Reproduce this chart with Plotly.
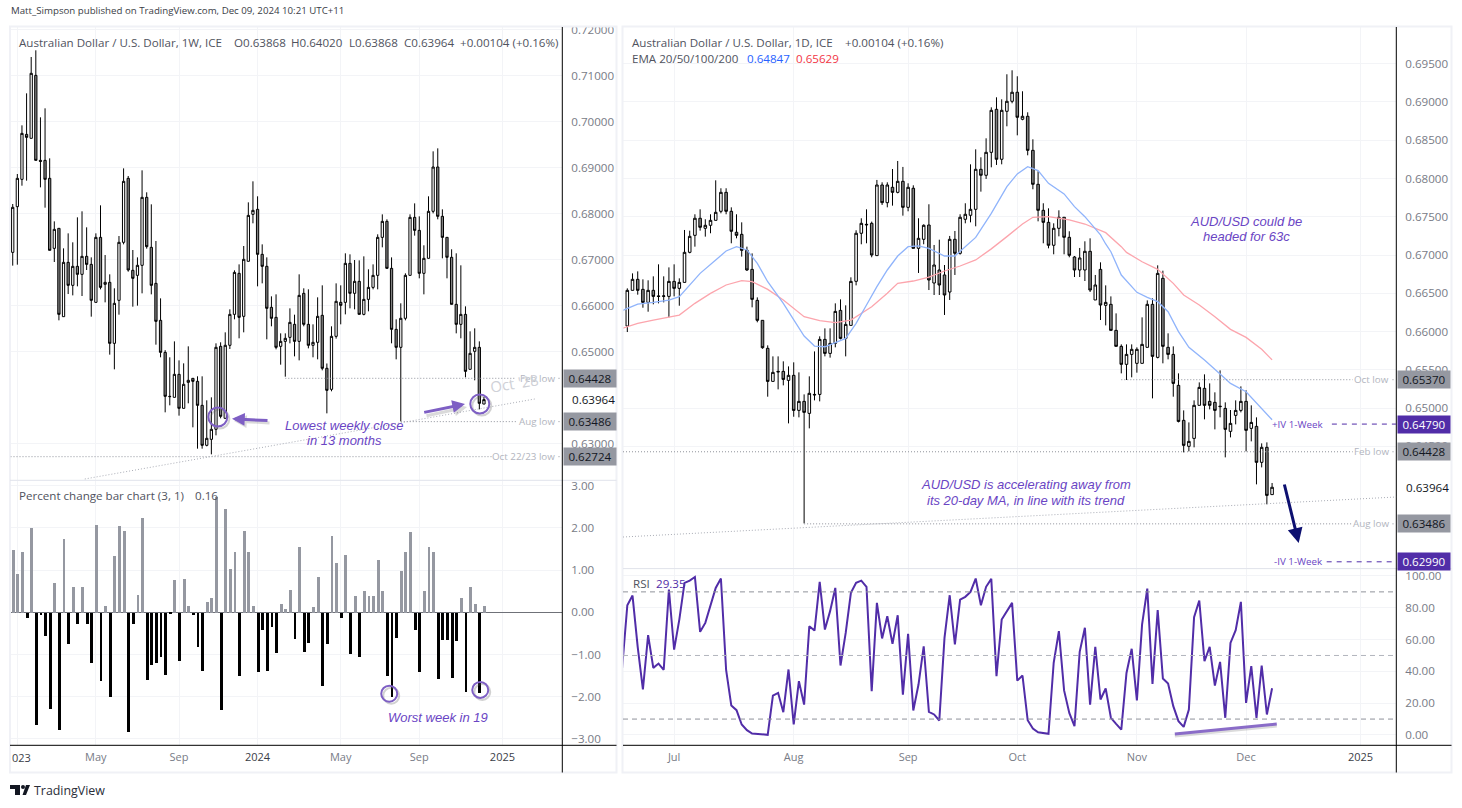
import plotly.graph_objects as go

W, H = 1462, 808
FONT = "Open Sans"
PURPLE = "#512da8"
NOTE = "#6a45c4"
GREY = "#787b86"
LEVEL = "#b2b5be"

# weekly AUD/USD
wk_open = [.67166,.68159,.68753,.69731,.69645,.71014,.69166,.69166,.68775,.67253,
           .67688,.65768,.66949,.66449,.66862,.66688,.67079,.66905,.66079,.67492,
           .66471,.66514,.65188,.66123,.67384,.68775,.66775,.66666,.66884,.68362,
           .67275,.66492,.65688,.64992,.64036,.64014,.64514,.63775,.64340,.64427,
           .64362,.63840,.62971,.63101,.63319,.65123,.63558,.65145,.65818,.66710,
           .65775,.66971,.67992,.68101,.67123,.66862,.65971,.65753,.65123,.65231,
           .65318,.65601,.65231,.66275,.65601,.65145,.65210,.65797,.64645,.64188,
           .65340,.66079,.66079,.66927,.66275,.66536,.65818,.66144,.66405,.66666,
           .67492,.67840,.66818,.65492,.65101,.65732,.66666,.67927,.67644,.66710,
           .67036,.68058,.69021,.67949,.67492,.67058,.66036,.65601,.65818,.64623,
           .65014,.65101,.63868]
wk_high = [.68217,.68869,.69927,.70623,.71413,.71558,.70101,.70297,.69210,.67840,
           .67688,.67253,.67579,.67384,.67927,.68058,.67710,.67057,.67579,.68188,
           .67108,.66688,.66384,.67521,.68992,.68826,.67217,.67057,.68949,.68471,
           .68210,.67413,.66166,.65040,.64884,.65231,.64818,.64753,.65123,.64427,
           .64471,.64471,.63949,.64014,.65188,.65210,.65427,.65927,.66775,.66905,
           .67304,.68253,.68710,.68384,.67340,.67057,.66210,.66253,.65405,.65405,
           .65949,.65811,.66688,.66384,.66362,.65601,.66188,.66449,.64750,.65558,
           .66492,.66449,.67145,.67123,.66999,.66992,.67079,.66797,.66905,.67558,
           .67992,.67884,.67057,.65710,.66058,.66710,.67992,.68231,.67949,.67319,
           .68384,.69362,.69427,.68101,.67492,.67232,.67145,.66884,.65992,.65449,
           .65514,.65231,.64020]
wk_low = [.66877,.66898,.68615,.68724,.69645,.69166,.68579,.68137,.67210,.66956,
          .65688,.65768,.66260,.66231,.66427,.66217,.66782,.65768,.66079,.66362,
          .66079,.64942,.64623,.65811,.67340,.66746,.65985,.66007,.66275,.67246,
          .66253,.65159,.64884,.63688,.63840,.64014,.63616,.63775,.63884,.63362,
          .62898,.62898,.62949,.62775,.63188,.63558,.63558,.65065,.65710,.65297,
          .65427,.66971,.67797,.66427,.66492,.65275,.65558,.65058,.64724,.64463,
          .65188,.64905,.64818,.65558,.65079,.64884,.64840,.64601,.63666,.64145,
          .65290,.65601,.65818,.65949,.65927,.65818,.65797,.65884,.66362,.66362,
          .67275,.66818,.65188,.64840,.63492,.65688,.66666,.67529,.66601,.66253,
          .67036,.68014,.67884,.67036,.66601,.66036,.65405,.65297,.64449,.64623,
          .64384,.63753,.63868]
wk_close = [.68145,.68775,.69753,.69666,.71058,.69166,.69145,.68753,.67210,.67666,
            .65818,.66949,.66449,.66862,.66688,.67079,.66905,.66123,.67492,.66405,
            .66514,.65188,.66058,.67384,.68710,.66782,.66601,.66884,.68362,.67290,
            .66449,.65666,.64992,.64036,.64030,.64514,.63775,.64297,.64384,.64362,
            .63840,.62971,.63123,.63319,.65101,.63601,.65145,.65818,.66731,.65753,
            .67014,.67970,.68079,.67123,.66862,.65949,.65732,.65101,.65231,.65297,
            .65644,.65231,.66231,.65601,.65145,.65210,.65775,.64645,.64166,.65340,
            .66101,.66014,.66927,.66275,.66536,.65818,.66144,.66405,.66666,.67492,
            .67840,.66818,.65492,.65101,.65732,.66666,.67927,.67644,.66710,.67036,
            .68058,.69021,.67949,.67492,.67058,.66036,.65601,.65818,.64579,.64971,
            .65101,.63884,.63964]
wk_pct = [1.50,.93,1.45,-.13,2.00,-2.67,-.06,-.55,-2.27,.70,
          -2.77,1.76,-.74,.60,-.27,.60,-.27,-1.20,2.07,-1.62,
          .17,-2.00,1.34,2.05,1.95,-2.83,-.27,.43,2.24,-1.60,
          -1.24,-1.19,-1.05,-1.48,-.03,.77,-1.15,.81,.15,-.06,
          -.81,-1.38,.25,.34,2.75,-2.31,2.45,1.05,1.43,-1.50,
          1.93,1.45,.17,-1.41,-.41,-1.38,-.34,-.96,.20,.10,
          .55,-.62,1.55,-.93,-.72,.13,.86,-1.74,-.74,1.81,
          1.17,-.13,1.38,-.98,.39,-1.05,.51,.39,.41,1.26,
          .51,-1.50,-2.00,-.60,.98,1.43,1.91,-.41,-1.41,.51,
          1.55,1.43,-1.57,-.65,-.65,-1.55,-.67,.34,-1.88,.62,
          .20,-1.90,.17]
wk_ticks = [1, 18, 36, 53, 71, 88, 106]
wk_ticktext = ["", "May", "Sep", "<span style='color:#3a3d46'>2024</span>", "May", "Sep",
               "<span style='color:#3a3d46'>2025</span>"]
wk_price_ticks = [.72, .71, .70, .69, .68, .67, .66, .65, .63]
pct_ticks = [3, 2, 1, 0, -1, -2, -3]
pct_ticktext = ["3.00", "2.00", "1.00", "0.00", "\u22121.00", "\u22122.00", "\u22123.00"]

# daily AUD/USD
d_open = [.66072,.66538,.66682,.66551,.66381,.66538,.66465,.66459,.66459,.66655,
          .66564,.66642,.67035,.67257,.6748,.67349,.67388,.67453,.67571,.67819,
          .67571,.67297,.6727,.67061,.66812,.66407,.66146,.6578,.65348,.65479,
          .65479,.65361,.65427,.64969,.65087,.6493,.65178,.65178,.65897,.65714,
          .65845,.66276,.6591,.6608,.66656,.67284,.67401,.67414,.66992,.67915,
          .67684,.67885,.67819,.67963,.67623,.67872,.67087,.67205,.67392,.66634,
          .66804,.66739,.66516,.67205,.67022,.67467,.67519,.67597,.6812,.68042,
          .68342,.68904,.68251,.68878,.69009,.69127,.68774,.68813,.68368,.67924,
          .67584,.67427,.67127,.67349,.67493,.67231,.66974,.66804,.66804,.67048,
          .66412,.66812,.66342,.66355,.66015,.65806,.65571,.65701,.65584,.65584,
          .65793,.66355,.65662,.66695,.65793,.65701,.65296,.64839,.64499,.64603,
          .65035,.65257,.65087,.65074,.65017,.64995,.64695,.64904,.64969,.65087,
          .64734,.6476,.6429,.64486,.63868]
d_high = [.66564,.6676,.66786,.66682,.66669,.66721,.66878,.66721,.66838,.66878,
          .66695,.67327,.67318,.67532,.67597,.67467,.67532,.67976,.67872,.67872,
          .67623,.67532,.67427,.67109,.67021,.66446,.66146,.65819,.65675,.65675,
          .6561,.65544,.65597,.65466,.65178,.65414,.6574,.65937,.66041,.66041,
          .66368,.6642,.66342,.66708,.67323,.6748,.67597,.67436,.67981,.6795,
          .6795,.68124,.68229,.68151,.67937,.67911,.6748,.67401,.67663,.67131,
          .672,.66869,.67249,.67314,.67532,.67676,.68185,.68381,.68277,.68525,
          .6893,.69061,.69035,.69362,.69414,.69336,.6914,.68865,.68512,.68094,
          .67676,.6761,.67414,.67584,.67493,.6731,.66987,.67092,.67179,.67218,
          .66739,.66904,.66603,.66459,.66237,.65832,.65832,.65832,.65793,.66185,
          .66407,.66433,.66865,.66795,.65976,.65806,.65453,.64969,.64812,.651,
          .65335,.6544,.65322,.65205,.65492,.65074,.64974,.651,.65283,.65231,
          .65035,.64878,.64538,.64551,.6402]
d_low = [.65993,.66538,.66481,.66311,.66259,.66355,.66368,.66381,.66185,.66459,
         .66337,.66642,.67022,.67109,.67318,.6724,.67284,.67453,.67545,.67532,
         .67153,.67218,.66979,.66791,.66316,.6612,.65775,.65148,.65348,.65244,
         .65296,.64799,.64886,.64878,.63492,.64734,.651,.65087,.65675,.65658,
         .65793,.65897,.65675,.6608,.66603,.6714,.67153,.6697,.66992,.67654,
         .67623,.67645,.67806,.67514,.67571,.67087,.66765,.6714,.66542,.66477,
         .66477,.66216,.66412,.66739,.67005,.67414,.67427,.67375,.67828,.67994,
         .68146,.68177,.68185,.68682,.68983,.68564,.68761,.68303,.67859,.6744,
         .67153,.67087,.67009,.67244,.67009,.6697,.66712,.66712,.6666,.66516,
         .66412,.6615,.6608,.66015,.65806,.65453,.65366,.65401,.65462,.65584,
         .65793,.65126,.65649,.65584,.65636,.65148,.64812,.6442,.64433,.64486,
         .65035,.64852,.64982,.64721,.64878,.64355,.64616,.64786,.64943,.64433,
         .64564,.64002,.64224,.63741,.63868]
d_close = [.66538,.66682,.66538,.66381,.66538,.66459,.66459,.66465,.66655,.66564,
           .66642,.67035,.67244,.6748,.67362,.67388,.67453,.67558,.67819,.67571,
           .6731,.67257,.67061,.66804,.6642,.66146,.65788,.65348,.65466,.65473,
           .65374,.65427,.64969,.65087,.64943,.65192,.65172,.65897,.65714,.65845,
           .66263,.6591,.66093,.66655,.67284,.67414,.67395,.67,.67915,.67684,
           .67915,.67819,.67963,.67623,.67885,.67087,.67218,.67388,.66673,.66869,
           .66608,.66477,.67205,.67022,.67493,.67532,.67597,.6812,.68042,.68342,
           .68891,.68251,.68891,.69009,.69127,.688,.68813,.68368,.67924,.67584,
           .67427,.67127,.67349,.67493,.67231,.66996,.66804,.66961,.67048,.66542,
           .66608,.66346,.66381,.66015,.65806,.65571,.65701,.65767,.65767,.65832,
           .66355,.65675,.6676,.65806,.65701,.65322,.64825,.64512,.64564,.65035,
           .6527,.65035,.65035,.64969,.65022,.64721,.64799,.64969,.65087,.64708,
           .64812,.6429,.64486,.63858,.63964]

ema20_idx = [-1,0,2,5,8,10,12,14,17,19,21,23,25,27,30,34,36,38,42,44,46,48,50,52,54,56,58,61,63,65,67,
             70,73,75,77,79,81,84,86,88,91,92,93,95,98,100,102,104,106,108,111,114,116,119,121,124]
ema20_val = [.66272,.66303,.66359,.66381,.66411,.66455,.66608,.66760,.66934,.67052,.67109,.67066,.66891,
             .66651,.66368,.65941,.65810,.65801,.6591,.66107,.66346,.66586,.66804,.66987,.67109,.67118,
             .67087,.66987,.66987,.67109,.6723,.67545,.67894,.6806,.68155,.68103,.67937,.67798,.67632,
             .67501,.67262,.67144,.67043,.66738,.66512,.66446,.6639,.66259,.65998,.65793,.65627,.65444,
             .65322,.65213,.65061,.64847]
ema50_idx = [-1,0,2,5,10,13,16,19,22,24,27,30,34,37,40,43,47,50,52,55,58,61,64,67,70,73,76,78,81,85,88,
             92,95,96,99,102,105,107,110,113,116,119,122,124]
ema50_val = [.66041,.66063,.66106,.66150,.66215,.66368,.66499,.66608,.66664,.66651,.66551,.66411,.66194,
             .66141,.66115,.6615,.66324,.66499,.6663,.6666,.66712,.66791,.66856,.66935,.6708,.6724,
             .67405,.67493,.67501,.67458,.67405,.67292,.67109,.67034,.66912,.66812,.66629,.66477,.66346,
             .66194,.66028,.65923,.65767,.65629]
rsi_val = [42.0,81.6,87.7,55.2,28.6,62.8,42.2,44.9,41.0,91.5,53.7,72.6,95.7,97.1,99.4,64.9,70.5,81.0,92.5,98.4,
           41.0,18.5,15.6,6.6,3.0,.9,.5,.3,.1,24.8,26.5,14.3,41.2,6.6,33.8,19.1,68.4,65.7,96.3,66.3,
           77.9,92.5,43.7,64.2,89.4,95.7,97.1,93.2,27.5,83.1,60.7,74.7,57.3,75.3,25.4,63.6,15.4,31.7,55.8,14.5,
           12.9,9.1,61.1,87.9,56.9,85.2,86.9,90.0,98.4,81.6,93.2,98.2,37.0,72.6,77.9,83.1,34.2,37.4,9.3,4.0,
           1.7,1.3,.7,45.4,65.3,28.0,13.9,5.5,52.3,67.4,19.1,55.4,22.3,29.2,10.8,7.0,3.4,39.0,54.2,21.7,
           69.5,92.1,32.1,78.5,35.5,32.4,18.1,8.7,5.1,16.0,74.1,84.6,46.4,55.4,31.1,46.0,10.8,57.9,65.9,83.7,
           20.2,43.3,10.8,43.7,12.9,29.35]
d_ticks = [9, 32, 54, 75, 98, 119, 141]
d_ticktext = ["Jul", "Aug", "Sep", "Oct", "Nov", "Dec", "<span style='color:#3a3d46'>2025</span>"]
d_price_ticks = [.695, .69, .685, .68, .675, .67, .665, .66, .655, .65, .645]
rsi_ticks = [100, 80, 60, 40, 20, 0]

wk_x = list(range(len(wk_close)))
d_x = list(range(len(d_close)))
rsi_x = list(range(-1, len(d_close)))


def px_x(x):
    return x / W


def px_y(y):
    return 1 - y / H


fig = go.Figure()
fig.add_trace(go.Candlestick(
    x=wk_x, open=wk_open, high=wk_high, low=wk_low, close=wk_close, xaxis="x", yaxis="y", whiskerwidth=0,
    increasing=dict(line=dict(color="#000000", width=1), fillcolor="#ffffff"),
    decreasing=dict(line=dict(color="#000000", width=1), fillcolor="#808080"),
))
fig.add_trace(go.Bar(
    x=wk_x, y=wk_pct, xaxis="x2", yaxis="y2", width=0.62,
    marker=dict(color=["#9598a1" if v >= 0 else "#000000" for v in wk_pct], line=dict(width=0)),
))
fig.add_trace(go.Scatter(x=ema50_idx, y=ema50_val, xaxis="x3", yaxis="y3", mode="lines",
                         line=dict(color="#fca5ad", width=1.3)))
fig.add_trace(go.Scatter(x=ema20_idx, y=ema20_val, xaxis="x3", yaxis="y3", mode="lines",
                         line=dict(color="#90b4fb", width=1.3)))
fig.add_trace(go.Candlestick(
    x=d_x, open=d_open, high=d_high, low=d_low, close=d_close, xaxis="x3", yaxis="y3", whiskerwidth=0,
    increasing=dict(line=dict(color="#000000", width=1), fillcolor="#ffffff"),
    decreasing=dict(line=dict(color="#000000", width=1), fillcolor="#808080"),
))
fig.add_trace(go.Scatter(x=rsi_x, y=rsi_val, xaxis="x4", yaxis="y4", mode="lines",
                         line=dict(color=PURPLE, width=2)))

GRID = "#f3f4f7"
tick_font = dict(family=FONT, size=11.6, color=GREY)
time_font = dict(family=FONT, size=11, color=GREY)


def x_axis(domain, rng, vals, text=None, anchor=None):
    ax = dict(domain=[px_x(domain[0]), px_x(domain[1])], range=rng, tickmode="array", tickvals=vals,
              showgrid=True, gridcolor=GRID, zeroline=False, showline=False, ticks="", anchor=anchor,
              rangeslider=dict(visible=False), fixedrange=True, automargin=False)
    if text is None:
        ax["showticklabels"] = False
    else:
        ax.update(ticktext=text, tickfont=time_font, ticklabelstandoff=4)
    return ax


def y_axis(domain, rng, vals, text, anchor):
    return dict(domain=[px_y(domain[1]), px_y(domain[0])], range=rng, side="right", anchor=anchor,
                tickmode="array", tickvals=vals, ticktext=text, tickfont=tick_font, ticks="",
                ticklabelstandoff=8, showgrid=True, gridcolor=GRID, zeroline=False, showline=False,
                fixedrange=True, automargin=False)


LEFT = (10.5, 562.3)
RIGHT = (623, 1396.3)
fig.update_layout(
    template="none", width=W, height=H, margin=dict(l=0, r=0, t=0, b=0, autoexpand=False),
    paper_bgcolor="#ffffff", plot_bgcolor="#ffffff",
    showlegend=False, bargap=0, font=dict(family=FONT),
    xaxis=x_axis(LEFT, [-0.48, 118.96], wk_ticks, anchor="y"),
    xaxis2=x_axis(LEFT, [-0.48, 118.96], wk_ticks, wk_ticktext, anchor="y2"),
    xaxis3=x_axis(RIGHT, [-0.83, 147.89], d_ticks, anchor="y3"),
    xaxis4=x_axis(RIGHT, [-0.83, 147.89], d_ticks, d_ticktext, anchor="y4"),
    yaxis=y_axis((27, 480), [.62217, .72065], wk_price_ticks, [f"{v:.5f}" for v in wk_price_ticks], "x"),
    yaxis2=y_axis((480.5, 745.3), [-3.154, 3.125], pct_ticks, pct_ticktext, "x2"),
    yaxis3=y_axis((27, 568.3), [.62905, .6998], d_price_ticks, [f"{v:.5f}" for v in d_price_ticks], "x3"),
    yaxis4=y_axis((569, 745.3), [-6.5, 104.4], rsi_ticks, [f"{v:.2f}" for v in rsi_ticks], "x4"),
)
fig.update_yaxes(zeroline=True, zerolinecolor="#6f7178", zerolinewidth=1, selector=dict(anchor="x2"))

shapes = []
notes = []
DOTS = "1px,2px"


def page_line(x0, y0, x1, y1, color, width):
    shapes.append(dict(type="line", xref="paper", yref="paper", x0=px_x(x0), x1=px_x(x1), y0=px_y(y0), y1=px_y(y1),
                       line=dict(color=color, width=width)))


def level(xr, yr, x0, x1, y0, y1=None, color="#8f929b", dash=DOTS, width=1):
    shapes.append(dict(type="line", xref=xr, yref=yr, x0=x0, x1=x1, y0=y0, y1=y0 if y1 is None else y1,
                       line=dict(color=color, width=width, dash=dash)))


def circle(xr, yr, x, y, r):
    for off, col in ((2, "rgba(90,90,90,0.28)"), (0, "#7e5fc4")):
        shapes.append(dict(type="circle", xref=xr, yref=yr, xsizemode="pixel", ysizemode="pixel",
                           xanchor=x, yanchor=y, x0=-r + off, x1=r + off, y0=-r - off, y1=r - off,
                           line=dict(color=col, width=2)))


def text(x, y, s, size=11.6, color=GREY, anchor="left", yref="paper", **kw):
    notes.append(dict(x=px_x(x), y=px_y(y) if yref == "paper" else y, xref="paper", yref=yref, text=s, showarrow=False,
                      xanchor=anchor, yanchor="middle", font=dict(family=kw.pop("family", FONT), size=size, color=color),
                      borderpad=0, **kw))


def arrow(x0, y0, x1, y1, color, width, size=0.85):
    notes.append(dict(x=px_x(x1), y=px_y(y1), xref="paper", yref="paper", ax=x0 - x1, ay=y0 - y1, text="",
                      showarrow=True, arrowhead=2, arrowsize=size, arrowwidth=width, arrowcolor=color,
                      standoff=0, startstandoff=0))


def box(x0, price, yref, s, bg, fg):
    notes.append(dict(x=px_x(x0), y=price, xref="paper", yref=yref, text=s, showarrow=False, xanchor="left",
                      yanchor="middle", bgcolor=bg, width=50, height=15, borderpad=1, align="center",
                      font=dict(family=FONT, size=11.6, color=fg)))


# page frame
for x0, x1 in ((10, 616.5), (622.5, 1451.5)):
    shapes.append(dict(type="rect", xref="paper", yref="paper", x0=px_x(x0), x1=px_x(x1), y0=px_y(772.5), y1=px_y(26.5),
                       line=dict(color="#f0f1f6", width=2)))
page_line(10, 480.3, 616.5, 480.3, "#e0e3eb", 1)
page_line(623, 568.6, 1451.5, 568.6, "#e0e3eb", 1)
page_line(10, 745.3, 616.5, 745.3, "#000000", 1)
page_line(623, 745.3, 1451.5, 745.3, "#000000", 1)
page_line(562.3, 27, 562.3, 772.5, "#000000", 1)
page_line(1396.3, 27, 1396.3, 772.5, "#000000", 1)

# weekly levels
level("x", "y", 59, 109, .64428)
level("x", "y", -0.48, 104, .62724)
level("x", "y", 84, 109, .63486)
level("x", "y", 15.6, 113, .62239, .63978, color="#a9acb5")
for lab, p, right in (("Feb low", .64428, 556), ("Aug low", .63486, 556), ("Oct 22/23 low", .62724, 556)):
    text(right, p, lab, size=9.8, color=LEVEL, anchor="right", yref="y")
    level("paper", "y", px_x(558.5), px_x(561.5), p)
text(514, 383, "Oct '28", size=15, color="#cfd1d7", anchor="center", textangle=-9)
circle("x", "y", 44.4, .63587, 9.5)
circle("x", "y", 101.1, .63870, 9.5)
circle("x2", "y2", 81.5, -1.93, 8)
circle("x2", "y2", 101.2, -1.84, 8)

# daily levels
level("x3", "y3", 95, 139.5, .6537)
level("x3", "y3", -0.83, 139.5, .64428)
level("x3", "y3", 34, 139.5, .63486)
level("x3", "y3", -0.83, 147.89, .63314, .63837, color="#a9acb5")
level("x3", "y3", 135.5, 147.89, .6479, color=PURPLE, dash="5px,5px")
level("x3", "y3", 134.5, 147.89, .6299, color=PURPLE, dash="5px,5px")
for lab, p in (("Oct low", .6537), ("Feb low", .64428), ("Aug low", .63486)):
    text(1390, p, lab, size=9.8, color=LEVEL, anchor="right", yref="y3")
    level("paper", "y3", px_x(1392.5), px_x(1395.5), p)
text(1325, .6479, "+IV 1-Week", size=9.8, color=NOTE, anchor="right", yref="y3")
text(1323.5, .6299, "-IV 1-Week", size=9.8, color=NOTE, anchor="right", yref="y3")

# RSI bands
level("x4", "y4", -0.83, 147.89, 90, dash="5px,4px")
level("x4", "y4", -0.83, 147.89, 50, color=LEVEL, dash="5px,4px")
level("x4", "y4", -0.83, 147.89, 10, dash="5px,4px")
shapes.append(dict(type="line", xref="x4", yref="y4", x0=105.3, x1=124.9, y0=-0.7, y1=5.6,
                   line=dict(color="rgba(90,90,90,0.22)", width=3)))
shapes.append(dict(type="line", xref="x4", yref="y4", x0=105.3, x1=124.9, y0=.6, y1=6.9,
                   line=dict(color="#8a6cc8", width=3)))

# header text
HEAD = "#50535e"
text(10, 10, "Matt_Simpson published on TradingView.com, Dec 09, 2024 10:21 UTC+11", size=9.7, color="#3a3d46")
text(18, 42, "Australian Dollar / U.S. Dollar, 1W, ICE", color=HEAD)
for xp, s in ((233, "O0.63868"), (290, "H0.64020"), (347.7, "L0.63868"), (403, "C0.63964"), (459.3, "+0.00104 (+0.16%)")):
    text(xp, 42, s, color=HEAD)
text(18, 495.7, "Percent change bar chart (3, 1)", color=HEAD)
text(194, 495.7, "0.16", color=HEAD)
text(631, 42, "Australian Dollar / U.S. Dollar, 1D, ICE", color=HEAD)
text(844.3, 42, "+0.00104 (+0.16%)", color=HEAD)
text(631, 58.3, "EMA 20/50/100/200", color=HEAD)
text(746, 58.3, "0.64847", color="#2962ff")
text(795, 58.3, "0.65629", color="#f23645")
text(631.7, 583, "RSI", color=HEAD)
text(654.7, 583, "29.35", color=PURPLE)
text(11, 757.7, "023", size=11, color="#3a3d46")

# axis tags
text(571.3, .63964, "0.63964", color="#131722", yref="y")
text(1405, .63964, "0.63964", color="#131722", yref="y3")
for p, s in ((.64428, "0.64428"), (.63486, "0.63486"), (.62724, "0.62724")):
    box(563, p, "y", s, "#9598a1", "#131722")
for p, s in ((.6537, "0.65370"), (.64428, "0.64428"), (.63486, "0.63486")):
    box(1397, p, "y3", s, "#9598a1", "#131722")
for p, s in ((.6479, "0.64790"), (.6299, "0.62990")):
    box(1397, p, "y3", s, PURPLE, "#ffffff")

# drawings
ITAL = "Liberation Sans"
for cx, cy, s in ((344, 425, "Lowest weekly close"), (344.5, 440, "in 13 months"),
                  (438, 717, "Worst week in 19"),
                  (1246, 221, "AUD/USD could be"), (1246, 237, "headed for 63c"),
                  (1026, 484, "AUD/USD is accelerating away from"), (1026, 500, "its 20-day MA, in line with its trend")):
    text(cx, cy, f"<i>{s}</i>", size=13, color=NOTE, anchor="center", family=ITAL)
arrow(271, 423, 234, 421, "rgba(90,90,90,0.22)", 3)
arrow(269, 420.7, 232, 418.7, "#7e5fc4", 3)
arrow(425, 416, 467, 407, "rgba(90,90,90,0.22)", 3)
arrow(422.7, 412.7, 465, 404, "#7e5fc4", 3)
arrow(1284, 483, 1298.7, 543, "#0d1070", 3, size=1)

# footer logo
shapes.append(dict(type="path", xref="paper", yref="paper", fillcolor="#131722", line=dict(width=0),
                   path="M {} {} L {} {} L {} {} L {} {} L {} {} L {} {} Z".format(
                       px_x(10), px_y(785), px_x(20), px_y(785), px_x(20), px_y(795),
                       px_x(15), px_y(795), px_x(15), px_y(789), px_x(10), px_y(789))))
shapes.append(dict(type="path", xref="paper", yref="paper", fillcolor="#131722", line=dict(width=0),
                   path="M {} {} L {} {} L {} {} L {} {} Z".format(
                       px_x(22.5), px_y(795), px_x(26), px_y(785), px_x(30), px_y(785), px_x(26), px_y(795))))
shapes.append(dict(type="circle", xref="paper", yref="paper", fillcolor="#131722", line=dict(width=0),
                   x0=px_x(21), x1=px_x(25), y0=px_y(789), y1=px_y(785)))
text(33, 790.5, "TradingView", size=12.4, color="#2a2e39")

fig.update_layout(shapes=shapes, annotations=notes)
fig.write_html("out.html", config=dict(displayModeBar=False), post_script="document.body.style.margin='0';")
